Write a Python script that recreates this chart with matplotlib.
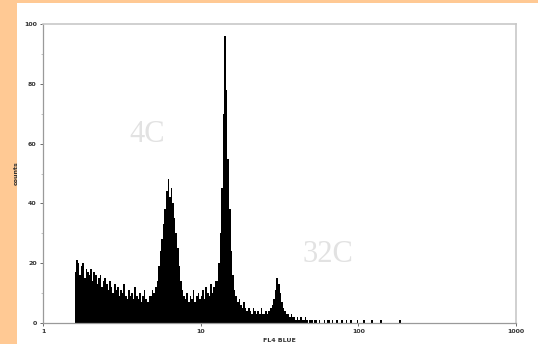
import numpy as np
import matplotlib
matplotlib.use("Agg")
import matplotlib.pyplot as plt
from matplotlib.patches import Rectangle

# Histogram counts, log-spaced channels from 10^0.20 to 10^2.30 (0.01 decade bins)
log_start = 0.20
log_step = 0.01
counts = [
    17, 21, 20, 16, 19, 20, 15, 18, 17, 16,   # 0.20
    18, 14, 17, 16, 13, 15, 16, 12, 14, 15,   # 0.30
    13, 11, 14, 12, 10, 13, 11, 12, 9, 11,    # 0.40
    10, 13, 9, 8, 11, 9, 10, 8, 12, 9,        # 0.50
    8, 10, 7, 9, 11, 8, 7, 9, 9, 11,          # 0.60
    10, 12, 14, 19, 24, 28, 33, 38, 44, 48,   # 0.70
    42, 45, 40, 35, 30, 25, 19, 14, 11, 9,    # 0.80
    8, 10, 7, 9, 8, 11, 7, 9, 10, 8,          # 0.90
    9, 11, 8, 12, 10, 9, 13, 10, 12, 14,      # 1.00
    14, 20, 30, 45, 70, 96, 78, 55, 38, 24,   # 1.10
    16, 11, 9, 7, 8, 6, 5, 7, 5, 4,           # 1.20
    5, 4, 3, 5, 4, 3, 4, 3, 5, 3,             # 1.30
    3, 4, 3, 4, 5, 6, 8, 11, 15, 13,          # 1.40
    10, 7, 5, 4, 3, 3, 2, 3, 2, 2,            # 1.50
    1, 2, 1, 2, 1, 1, 2, 1, 0, 1,             # 1.60
    1, 0, 1, 1, 0, 1, 0, 0, 1, 0,             # 1.70
    1, 1, 0, 1, 0, 0, 1, 0, 0, 1,             # 1.80
    0, 0, 1, 0, 0, 1, 0, 0, 0, 1,             # 1.90
    0, 0, 0, 1, 0, 0, 0, 0, 1, 0,             # 2.00
    0, 0, 0, 0, 1, 0, 0, 0, 0, 0,             # 2.10
    0, 0, 0, 0, 0, 0, 1, 0, 0, 0,             # 2.20
]
x_ticks = [1, 10, 100, 1000]
x_tick_labels = ["1", "10", "100", "1000"]
y_ticks = [0, 20, 40, 60, 80, 100]
y_tick_labels = ["0", "20", "40", "60", "80", "100"]
annotations = [("4C", 4.6, 63.0), ("32C", 64.0, 23.0)]

W, H = 538, 344
fig = plt.figure(figsize=(W / 100, H / 100), dpi=100)
fig.patch.set_facecolor("white")
orange = "#FFC994"
fig.add_artist(Rectangle((0, 0), 17 / W, 1, transform=fig.transFigure,
                         facecolor=orange, edgecolor="none", zorder=-5))
fig.add_artist(Rectangle((0, 1 - 2.5 / H), 1, 2.5 / H, transform=fig.transFigure,
                         facecolor=orange, edgecolor="none", zorder=-5))

ax = fig.add_axes([43 / W, (H - 323) / H, (516 - 43) / W, (323 - 24) / H])
ax.set_facecolor("white")

edges = 10 ** (log_start + log_step * np.arange(len(counts) + 1))
ax.stairs(counts, edges, fill=True, color="black", linewidth=0)

ax.set_xscale("log")
ax.set_xlim(1, 1000)
ax.set_ylim(0, 100)
ax.set_xticks(x_ticks)
ax.set_xticklabels(x_tick_labels)
ax.xaxis.set_minor_locator(matplotlib.ticker.NullLocator())
ax.set_yticks(y_ticks)
ax.set_yticklabels(y_tick_labels)
ax.set_yticks(np.arange(10, 100, 20), minor=True)

for s in ["top", "right"]:
    ax.spines[s].set_color("#c8c8c8")
    ax.spines[s].set_linewidth(1.2)
for s in ["left", "bottom"]:
    ax.spines[s].set_color("#9a9a9a")
    ax.spines[s].set_linewidth(0.9)

ax.tick_params(axis="both", which="major", labelsize=4.5, colors="#555555",
               length=2.5, width=0.6, pad=2)
ax.tick_params(axis="y", which="minor", length=1.5, width=0.5, colors="#aaaaaa")
for lab in ax.get_xticklabels() + ax.get_yticklabels():
    lab.set_color("#333333")
    lab.set_fontweight("bold")

ax.set_xlabel("FL4 BLUE", fontsize=4.5, color="#333333", fontweight="bold", labelpad=3)
ax.set_ylabel("counts", fontsize=4.5, color="#333333", fontweight="bold", labelpad=4)

for txt, xv, yv in annotations:
    ax.text(xv, yv, txt, fontsize=22, color="#e2e2e2", family="Liberation Serif",
            ha="center", va="center")

fig.savefig("out.png", dpi=100, facecolor=fig.get_facecolor())
